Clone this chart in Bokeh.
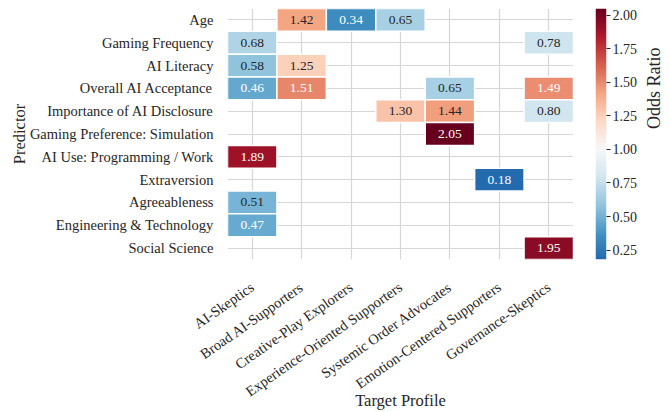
import numpy as np
from bokeh.plotting import figure
from bokeh.models import (FactorRange, Range1d, ColumnDataSource, LinearColorMapper,
                          FixedTicker, NumeralTickFormatter)
from bokeh.transform import transform
from bokeh.layouts import row
from bokeh.embed import file_html
from bokeh.resources import INLINE
from bokeh.core.properties import value

profiles = ["AI-Skeptics", "Broad AI-Supporters", "Creative-Play Explorers",
            "Experience-Oriented Supporters", "Systemic Order Advocates",
            "Emotion-Centered Supporters", "Governance-Skeptics"]
predictors = ["Age", "Gaming Frequency", "AI Literacy", "Overall AI Acceptance",
              "Importance of AI Disclosure", "Gaming Preference: Simulation",
              "AI Use: Programming / Work", "Extraversion", "Agreeableness",
              "Engineering & Technology", "Social Science"]

# odds ratios per predictor, across the profiles (None = no significant effect)
age = [None, 1.42, 0.34, 0.65, None, None, None]
gaming_frequency = [0.68, None, None, None, None, None, 0.78]
ai_literacy = [0.58, 1.25, None, None, None, None, None]
overall_ai_acceptance = [0.46, 1.51, None, None, 0.65, None, 1.49]
importance_ai_disclosure = [None, None, None, 1.30, 1.44, None, 0.80]
gaming_pref_simulation = [None, None, None, None, 2.05, None, None]
ai_use_programming_work = [1.89, None, None, None, None, None, None]
extraversion = [None, None, None, None, None, 0.18, None]
agreeableness = [0.51, None, None, None, None, None, None]
engineering_technology = [0.47, None, None, None, None, None, None]
social_science = [None, None, None, None, None, None, 1.95]

colorbar_ticks = [0.25, 0.50, 0.75, 1.00, 1.25, 1.50, 1.75, 2.00]
colorbar_title = "Odds Ratio"
center = 1.0

rows = [age, gaming_frequency, ai_literacy, overall_ai_acceptance,
        importance_ai_disclosure, gaming_pref_simulation, ai_use_programming_work,
        extraversion, agreeableness, engineering_technology, social_science]

FONT = "Liberation Serif"
TXT = "#262626"
H, TOP, BOTTOM = 412, 8, 153

# ---- RdBu_r colormap, recentred on 1 like seaborn's heatmap(center=1)
RDBU = ["#67001f", "#b2182b", "#d6604d", "#f4a582", "#fddbc7", "#f7f7f7",
        "#d1e5f0", "#92c5de", "#4393c3", "#2166ac", "#053061"][::-1]
anchors = np.array([[int(h[i:i + 2], 16) for i in (1, 3, 5)] for h in RDBU]) / 255.0
apos = np.linspace(0, 1, len(anchors))

xs, ys, vals = [], [], []
for pred, r in zip(predictors, rows):
    for prof, v in zip(profiles, r):
        if v is not None:
            xs.append(prof); ys.append(pred); vals.append(v)
vmin, vmax = min(vals), max(vals)
vrange = max(vmax - center, center - vmin)
cmin = (vmin - (center - vrange)) / (2 * vrange)
cmax = (vmax - (center - vrange)) / (2 * vrange)
cc = np.linspace(cmin, cmax, 256)
rgb = np.stack([np.interp(cc, apos, anchors[:, k]) for k in range(3)], axis=1)
palette = ["#%02x%02x%02x" % tuple(int(round(c * 255)) for c in col) for col in rgb]


def lum(col):
    lin = np.where(col <= 0.03928, col / 12.92, ((col + 0.055) / 1.055) ** 2.4)
    return 0.2126 * lin[0] + 0.7152 * lin[1] + 0.0722 * lin[2]


tcolors = []
for v in vals:
    idx = min(int((v - vmin) / (vmax - vmin) * 256), 255)
    tcolors.append("white" if lum(rgb[idx]) <= 0.408 else TXT)

mapper = LinearColorMapper(palette=palette, low=vmin, high=vmax)
src = ColumnDataSource(dict(x=xs, y=ys, v=vals, label=["%.2f" % v for v in vals], tc=tcolors))

# ---- heatmap
p = figure(width=573, height=H, x_range=FactorRange(*profiles),
           y_range=FactorRange(*predictors[::-1]), output_backend="svg",
           toolbar_location=None, min_border_left=227, min_border_right=0,
           min_border_top=TOP, min_border_bottom=BOTTOM)
p.rect(x="x", y="y", width=1, height=1, source=src,
       fill_color=transform("v", mapper), line_color="white", line_width=1.5)
p.text(x="x", y="y", text="label", source=src, text_color="tc",
       text_align="center", text_baseline="middle",
       text_font=value(FONT), text_font_size="13.5px")

p.outline_line_color = None
p.grid.grid_line_color = "#d6d6d6"
p.grid.grid_line_width = 1.2
for ax in (p.xaxis[0], p.yaxis[0]):
    ax.axis_line_color = None
    ax.major_tick_line_color = None
    ax.minor_tick_line_color = None
    ax.major_label_text_font = FONT
    ax.major_label_text_font_size = "14.5px"
    ax.major_label_text_color = TXT
    ax.axis_label_text_font = FONT
    ax.axis_label_text_font_size = "16.5px"
    ax.axis_label_text_font_style = "normal"
    ax.axis_label_text_color = TXT
p.xaxis.major_label_orientation = np.radians(35)
p.xaxis.major_label_standoff = 20
p.yaxis.major_label_standoff = 8
p.xaxis.axis_label = "Target Profile"
p.yaxis.axis_label = "Predictor"
p.xaxis.axis_label_standoff = -18
p.yaxis.axis_label_standoff = -2

# ---- colour bar (its own narrow figure)
cb = figure(width=67, height=H, x_range=Range1d(0, 1), y_range=Range1d(vmin, vmax),
            output_backend="svg", toolbar_location=None, y_axis_location="right",
            min_border_left=22, min_border_right=31, min_border_top=TOP,
            min_border_bottom=BOTTOM)
cb.image(image=[np.linspace(vmin, vmax, 256).reshape(256, 1)], x=0, y=vmin,
         dw=1, dh=vmax - vmin, color_mapper=mapper)
cb.xaxis.visible = False
cb.grid.visible = False
cb.outline_line_color = None
ya = cb.yaxis[0]
ya.ticker = FixedTicker(ticks=colorbar_ticks)
ya.formatter = NumeralTickFormatter(format="0.00")
ya.axis_line_color = None
ya.minor_tick_line_color = None
ya.major_tick_line_color = TXT
ya.major_tick_out = 4
ya.major_tick_in = 0
ya.major_label_standoff = 2
ya.major_label_text_font = FONT
ya.major_label_text_font_size = "14px"
ya.major_label_text_color = TXT

# ---- colour bar title in a slim pixel-scaled panel
LW = 30
lf = figure(width=LW, height=H, x_range=Range1d(0, LW), y_range=Range1d(0, H),
            output_backend="svg", toolbar_location=None,
            x_axis_type=None, y_axis_type=None,
            min_border_left=0, min_border_right=0, min_border_top=0,
            min_border_bottom=0)
lf.grid.visible = False
lf.outline_line_color = None
lf.text(x=[13], y=[H - 131], text=[colorbar_title], angle=np.pi / 2,
        text_align="center", text_baseline="alphabetic", text_color=TXT,
        text_font=value(FONT), text_font_size="18px")

layout = row(p, cb, lf)
open("out.html", "w").write(file_html(layout, INLINE))
